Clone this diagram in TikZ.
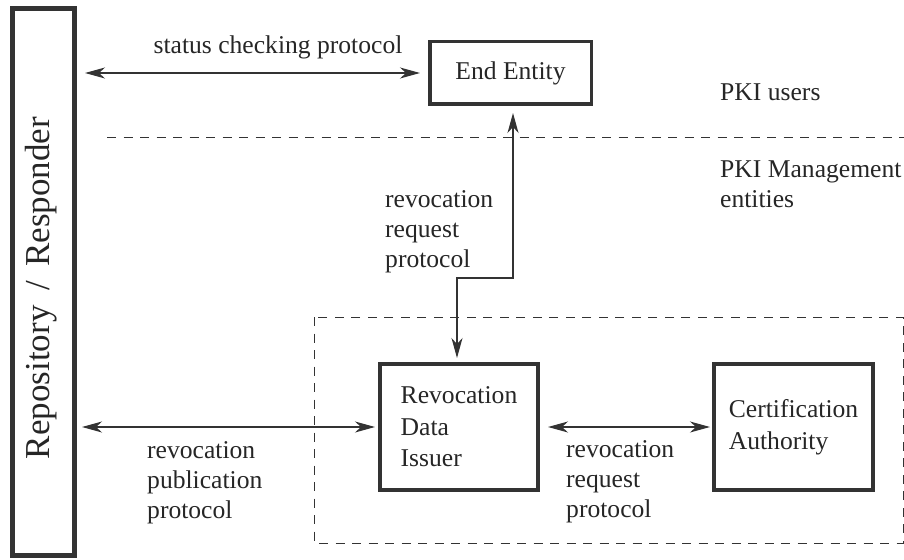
\documentclass[tikz,border=0pt]{standalone}
\usepackage{fontspec}
\setmainfont{Liberation Serif}
\usetikzlibrary{arrows.meta,calc}
\definecolor{ink}{HTML}{262626}
\definecolor{lin}{HTML}{333333}
\tikzset{
  every node/.style={text=ink},
  thickbox/.style={draw=lin, line width=4pt, inner sep=0pt, align=left,
    font=\fontsize{25.6}{31.5}\selectfont},
  lbl/.style={inner sep=0pt, align=left, anchor=west,
    font=\fontsize{25.6}{30}\selectfont},
  conn/.style={draw=lin, line width=1.2pt,
    {Stealth[length=20pt,width=11pt,inset=6pt]}-{Stealth[length=20pt,width=11pt,inset=6pt]}},
  sep/.style={draw=lin, line width=1pt, dash pattern=on 9pt off 7.5pt}
}
\begin{document}
\begin{tikzpicture}[x=1pt,y=-1pt]
\useasboundingbox (0,0) rectangle (904,559);
% boxes
\node[thickbox, line width=5pt, minimum width=62pt, minimum height=546pt] (repo) at (43.5,282) {};
\node[rotate=90, inner sep=0pt, font=\fontsize{35}{40}\selectfont] (repotext) at (41,288) {Repository \,/\, Responder};
\node[thickbox, line width=3.5pt, minimum width=161.5pt, minimum height=62.5pt] (ee) at (510.5,73) {End Entity};
\node[thickbox, minimum width=158pt, minimum height=126pt] (rdi) at (459,427) {Revocation\\Data\\Issuer};
\node[thickbox, minimum width=159pt, minimum height=126pt] (ca) at (793.5,427) {Certification\\Authority};
% separators
\coordinate (sepL) at (107,137);
\coordinate (sepR) at (904,137);
\draw[sep] (sepL) -- (sepR);
\coordinate (grpA) at (314,317);
\coordinate (grpB) at (903,543);
\draw[sep] (grpA) rectangle (grpB);
% connectors
\draw[conn, shorten <=8pt, shorten >=8pt] (repo.east |- ee.west) -- (ee.west);
\draw[conn, shorten <=5pt, shorten >=3pt] (repo.east |- rdi.west) -- (rdi.west);
\draw[conn, shorten <=8pt, shorten >=2pt] (rdi.east) -- (ca.west);
\coordinate (elbow) at (485,278);
\draw[conn, shorten <=7pt, shorten >=4pt] ([xshift=2.5pt]ee.south) |- (elbow) -| ([xshift=-2pt]rdi.north);
% labels
\node[inner sep=0pt, font=\fontsize{25.6}{30}\selectfont] (lstatus) at (278,47) {status checking protocol};
\node[lbl] (lusers) at (720,92) {PKI users};
\node[lbl] (lmgmt) at (720,184) {PKI Management\\entities};
\node[lbl] (lreq1) at (385,232) {revocation\\request\\protocol};
\node[lbl] (lpub) at (147,483) {revocation\\publication\\protocol};
\node[lbl] (lreq2) at (566,482) {revocation\\request\\protocol};
\end{tikzpicture}
\end{document}
